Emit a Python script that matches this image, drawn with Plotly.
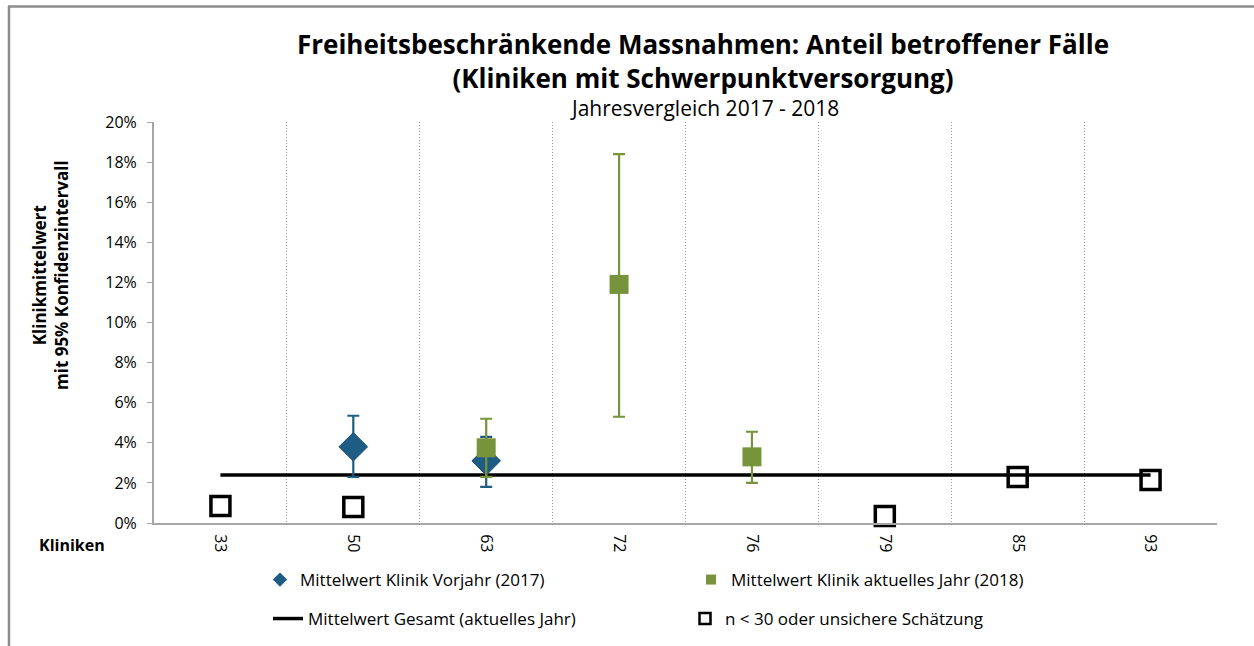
import plotly.graph_objects as go

# ---------------- data ----------------
kliniken = ["33", "50", "63", "72", "76", "79", "85", "93"]

# 2017 (Vorjahr)
k2017 = ["50", "63"]
m2017 = [0.038, 0.031]
lo2017 = [0.023, 0.018]
hi2017 = [0.0535, 0.043]

# 2018 (aktuelles Jahr)
k2018 = ["63", "72", "76"]
m2018 = [0.0375, 0.119, 0.033]
lo2018 = [0.023, 0.053, 0.020]
hi2018 = [0.052, 0.184, 0.0455]

# n < 30 oder unsichere Schätzung
kunsicher = ["33", "50", "79", "85", "93"]
munsicher = [0.0085, 0.008, 0.0035, 0.023, 0.0215]

mittel_gesamt = 0.024

y_ticks = [0, 0.02, 0.04, 0.06, 0.08, 0.10, 0.12, 0.14, 0.16, 0.18, 0.20]

# ---------------- helpers ----------------
idx = {k: i for i, k in enumerate(kliniken)}
BLUE = "#1F5C84"
GREEN = "#77933C"
FONT = "Open Sans"

W, H = 1254, 646
ML, MR, MT, MB = 154, 37, 122, 123
pw = W - ML - MR
ph = H - MT - MB


def px_x(x):
    return (x - ML) / pw


def px_y(y):
    return (H - MB - y) / ph


NAME17 = "Mittelwert Klinik Vorjahr (2017)"
NAME18 = "Mittelwert Klinik aktuelles Jahr (2018)"
NAMEG = "Mittelwert Gesamt (aktuelles Jahr)"
NAMEU = "n < 30 oder unsichere Schätzung"

fig = go.Figure()

# data traces (legend entries drawn by legend-only twins below)
fig.add_trace(go.Scatter(
    x=[0, len(kliniken) - 1], y=[mittel_gesamt, mittel_gesamt],
    mode="lines", line=dict(color="black", width=3.5),
    name=NAMEG, legend="legend2", hoverinfo="skip"))

fig.add_trace(go.Scatter(
    x=[idx[k] for k in k2017], y=m2017, mode="markers",
    marker=dict(symbol="diamond", size=22, color=BLUE,
                line=dict(color="#1A4F70", width=1)),
    error_y=dict(type="data", symmetric=False,
                 array=[h - m for h, m in zip(hi2017, m2017)],
                 arrayminus=[m - l for m, l in zip(m2017, lo2017)],
                 color=BLUE, thickness=2.2, width=6),
    name=NAME17, showlegend=False))

fig.add_trace(go.Scatter(
    x=[idx[k] for k in k2018], y=m2018, mode="markers",
    marker=dict(symbol="square", size=19, color=GREEN),
    error_y=dict(type="data", symmetric=False,
                 array=[h - m for h, m in zip(hi2018, m2018)],
                 arrayminus=[m - l for m, l in zip(m2018, lo2018)],
                 color=GREEN, thickness=2.2, width=6),
    name=NAME18, showlegend=False))

fig.add_trace(go.Scatter(
    x=[idx[k] for k in kunsicher], y=munsicher, mode="markers",
    marker=dict(symbol="square-open", size=19, color="black",
                line=dict(color="black", width=3.5)),
    cliponaxis=False, name=NAMEU, showlegend=False))

# legend-only twins with smaller symbols
fig.add_trace(go.Scatter(x=[None], y=[None], mode="markers",
                         marker=dict(symbol="diamond", size=11, color=BLUE),
                         name=NAME17, legend="legend"))
fig.add_trace(go.Scatter(x=[None], y=[None], mode="markers",
                         marker=dict(symbol="square", size=10, color=GREEN),
                         name=NAME18, legend="legend"))
fig.add_trace(go.Scatter(x=[None], y=[None], mode="markers",
                         marker=dict(symbol="square-open", size=11, color="black",
                                     line=dict(color="black", width=2.5)),
                         name=NAMEU, legend="legend2"))

fig.update_layout(
    width=W, height=H,
    margin=dict(l=ML, r=MR, t=MT, b=MB, autoexpand=False),
    paper_bgcolor="white", plot_bgcolor="white",
    font=dict(family=FONT, color="black", size=15),
    showlegend=True,
    legend=dict(orientation="h", x=px_x(260), y=px_y(580),
                xanchor="left", yanchor="middle",
                entrywidth=386, entrywidthmode="pixels",
                font=dict(size=17, family=FONT), itemsizing="trace",
                bgcolor="rgba(0,0,0,0)"),
    legend2=dict(orientation="h", x=px_x(268), y=px_y(619),
                 xanchor="left", yanchor="middle",
                 entrywidth=372, entrywidthmode="pixels",
                 font=dict(size=17, family=FONT), itemsizing="trace",
                 bgcolor="rgba(0,0,0,0)"),
    xaxis=dict(
        range=[-0.5, len(kliniken) - 0.5],
        tickmode="array", tickvals=list(range(len(kliniken))), ticktext=kliniken,
        tickangle=90, ticks="", showgrid=False, zeroline=False,
        showline=True, linecolor="#A6A6A6", linewidth=2,
        ticklabelstandoff=6,
        tickfont=dict(size=16, family=FONT),
        minor=dict(tickmode="array",
                   tickvals=[i + 0.5 for i in range(len(kliniken))],
                   showgrid=True, gridcolor="#9A9A9A", griddash="1px,2px",
                   gridwidth=1.3, ticks=""),
    ),
    yaxis=dict(
        range=[0, 0.20], tickmode="array", tickvals=y_ticks,
        tickformat=".0%", ticks="outside", ticklen=5, tickcolor="#A6A6A6",
        showgrid=False, zeroline=False, showline=True,
        linecolor="#A6A6A6", linewidth=2, ticklabelstandoff=7,
        tickfont=dict(size=16, family=FONT),
    ),
)

# Titles
fig.add_annotation(x=px_x(703), y=px_y(61), xref="paper", yref="paper",
                   text="<b>Freiheitsbeschränkende Massnahmen: Anteil betroffener Fälle</b><br>"
                        "<b>(Kliniken mit Schwerpunktversorgung)</b>",
                   showarrow=False, font=dict(size=26, family=FONT),
                   yanchor="middle", align="center")
fig.add_annotation(x=px_x(704), y=px_y(108), xref="paper", yref="paper",
                   text="Jahresvergleich 2017 - 2018",
                   showarrow=False, font=dict(size=21, family=FONT), yanchor="middle")
# Y-axis title
fig.add_annotation(x=px_x(50), y=px_y(275), xref="paper", yref="paper",
                   text="<b>Klinikmittelwert<br>mit 95% Konfidenzintervall</b>",
                   showarrow=False, textangle=-90, font=dict(size=17, family=FONT),
                   xanchor="center", yanchor="middle")
# X label
fig.add_annotation(x=px_x(72), y=px_y(545), xref="paper", yref="paper",
                   text="<b>Kliniken</b>", showarrow=False,
                   font=dict(size=16, family=FONT), xanchor="center", yanchor="middle")

# outer frame (top and left)
fig.add_shape(type="line", xref="paper", yref="paper",
              x0=px_x(8), x1=px_x(1254), y0=px_y(6.5), y1=px_y(6.5),
              line=dict(color="#8C8C8C", width=2.5))
fig.add_shape(type="line", xref="paper", yref="paper",
              x0=px_x(9), x1=px_x(9), y0=px_y(6), y1=px_y(646),
              line=dict(color="#8C8C8C", width=2.5))

fig.write_html("out.html", config={"displayModeBar": False},
               post_script="document.body.style.margin='0';")
